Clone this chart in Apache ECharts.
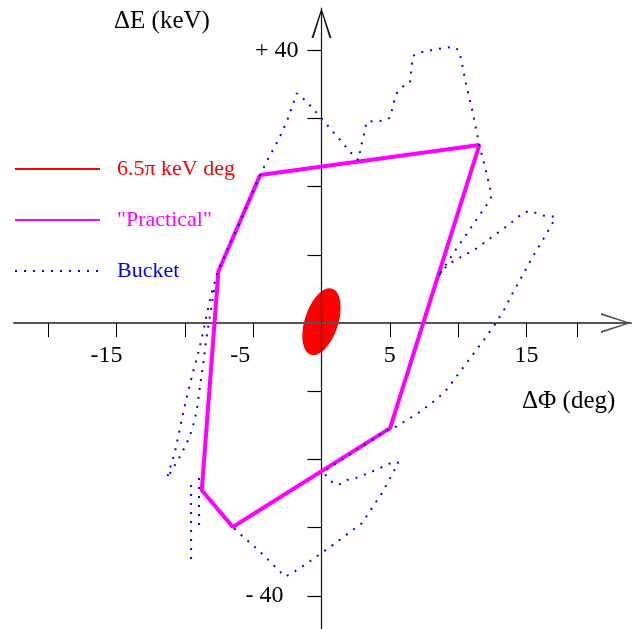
<!DOCTYPE html>
<html>
<head>
<meta charset="utf-8">
<script src="https://cdn.jsdelivr.net/npm/echarts@6/dist/echarts.min.js"></script>
<style>
html,body{margin:0;padding:0;background:#fff;}
#chart{width:633px;height:629px;}
</style>
</head>
<body>
<div id="chart"></div>
<script>
// ---- data (deg, keV) ----
const practicalDeg = [-4.49, 11.55, 5.02, -6.49, -8.76, -7.54, -4.49];
const practicalKeV = [21.7, 26.1, -15.4, -29.9, -24.5, 7.6, 21.7];

const bucketUpperDeg = [-7.86,-8.15,-8.44,-8.66,-8.88,-9.12,-9.47,-9.91,-10.42,-10.93,-11.30,-11.01,-10.71,-10.46,-10.20,-9.91,-9.62,-9.32,-8.96,-8.66,-8.37,-8.08,-7.57,-5.96,-4.49,-3.89,-3.15,-2.54,-2.06,-1.81,-1.08,-0.10,0.63,1.36,2.29,2.70,2.95,3.31,4.58,5.02,5.33,5.55,5.95,6.48,6.61,6.68,7.14,8.36,9.65,10.02,10.22,10.58,11.04,11.55,12.02,12.46,12.17,11.44,10.71,9.97,9.29,8.61];
const bucketUpperKeV = [4.85,1.19,-2.48,-6.14,-9.08,-12.74,-15.67,-17.87,-19.78,-21.54,-22.71,-20.81,-18.75,-16.41,-13.91,-11.28,-8.93,-6.58,-3.94,-1.30,1.48,4.12,7.64,14.82,21.72,24.16,26.85,29.53,32.23,33.70,32.46,30.26,28.56,26.85,24.65,23.91,26.36,29.53,29.68,30.12,32.61,33.84,34.66,35.25,37.84,39.16,39.65,40.15,40.53,40.04,38.72,35.01,31.14,26.11,22.45,18.68,17.57,15.45,13.31,11.20,9.11,7.05];

const bucketLowerDeg = [8.61,9.29,10.27,11.36,12.34,13.36,14.29,14.77,15.26,15.75,16.36,17.09,16.85,16.12,15.39,14.73,14.04,13.43,12.70,11.97,11.24,10.51,9.78,9.04,8.19,7.22,6.24,5.26,5.02,0.14,0.39,0.75,1.24,1.85,2.46,3.68,4.78,5.26,5.63,5.02,4.41,3.68,2.95,1.97,1.00,-0.10,-1.13,-2.17,-2.66,-3.52,-4.49,-5.47,-6.49];
const bucketLowerKeV = [7.05,8.67,9.74,10.97,12.43,13.90,15.37,16.19,16.44,16.10,15.70,15.60,14.38,11.94,9.50,7.05,4.60,2.17,-0.18,-2.23,-4.19,-6.14,-8.09,-10.06,-11.52,-12.99,-14.21,-15.43,-15.43,-21.79,-22.52,-23.26,-23.74,-23.01,-22.76,-21.79,-20.81,-20.32,-20.47,-22.76,-24.96,-27.16,-29.35,-30.82,-32.29,-33.86,-35.32,-36.69,-37.18,-35.47,-33.52,-31.80,-29.94];

const bucketColLeftDeg = [-9.54, -9.54];
const bucketColLeftKeV = [-23.74, -35.47];
const bucketColRightDeg = [-8.96, -8.96];
const bucketColRightKeV = [-22.72, -30.2];

// emittance ellipse: centre, half-width (deg), half-height (keV), phase (deg)
const ellipseCenter = [0.0, 0.2];
const ellipseHalfWidth = 1.4;
const ellipseHalfHeight = 4.9;
const ellipsePhase = 65;

const xTicks = [-20, -15, -10, -5, 5, 10, 15, 18.75];
const xLabels = [-15, -5, 5, 15];
const yTicks = [-40, -30, -20, -10, 10, 20, 30, 40];
const yLabels = [-40, 40];

const seriesNames = ['6.5\u03c0 keV deg', '"Practical"', 'Bucket'];

// ---- layout ----
const X_MIN = -22.5, X_MAX = 22.65, Y_MIN = -45, Y_MAX = 46.2;
const G_LEFT = 14, G_TOP = 8, G_W = 617, G_H = 622;
// put the axes through the origin (offset from the grid edges)
const yAxisOffset = -G_W * (0 - X_MIN) / (X_MAX - X_MIN);
const xAxisOffset = -G_H * (0 - Y_MIN) / (Y_MAX - Y_MIN);

function zip(a, b) { return a.map((v, i) => [v, b[i]]); }
const FONT = 'Liberation Serif';
const chevron = 'path://M10,0 L20,30 L18,30 L10,4 L2,30 L0,30 Z';

const chart = echarts.init(document.getElementById('chart'), null, {renderer: 'canvas'});
const bucketStyle = {color: '#0000ff', width: 2, type: [2, 7]};

chart.setOption({
  animation: false,
  backgroundColor: '#fff',
  grid: {left: G_LEFT, width: G_W, top: G_TOP, height: G_H, containLabel: false, outerBoundsMode: 'none'},
  title: [
    {text: '\u0394E (keV)', left: 114, top: 9, padding: 0,
     textStyle: {fontFamily: FONT, fontSize: 25, fontWeight: 'normal', color: '#000'}},
    {text: '\u0394\u03a6 (deg)', left: 522, top: 389, padding: 0,
     textStyle: {fontFamily: FONT, fontSize: 25, fontWeight: 'normal', color: '#000'}}
  ],
  legend: {
    orient: 'vertical', left: 14, top: 158, padding: 0,
    itemWidth: 85, itemHeight: 22, itemGap: 29,
    itemStyle: {opacity: 0},
    textStyle: {fontFamily: FONT, fontSize: 22, lineHeight: 22, padding: [0, 0, 0, 12]},
    data: [
      {name: seriesNames[0], textStyle: {color: '#ff0000'}},
      {name: seriesNames[1], textStyle: {color: '#ff00ff'}},
      {name: seriesNames[2], textStyle: {color: '#0000ff'}}
    ]
  },
  xAxis: {
    type: 'value', min: X_MIN, max: X_MAX, z: 2, position: 'bottom', offset: xAxisOffset,
    splitLine: {show: false},
    axisLine: {onZero: false, symbol: ['none', chevron], symbolSize: [20, 30], symbolOffset: [0, -15],
               lineStyle: {color: '#555', width: 2}},
    axisTick: {customValues: xTicks, length: 14, lineStyle: {color: '#000', width: 1}},
    axisLabel: {
      customValues: xLabels, margin: 21, fontFamily: FONT, fontSize: 24, color: '#000',
      formatter: function (v) {
        if (v === -15) return '{a|-15}';
        if (v === -5) return '{b|-5}';
        return String(v);
      },
      rich: {
        a: {fontFamily: FONT, fontSize: 24, color: '#000', padding: [0, 20, 0, 0]},
        b: {fontFamily: FONT, fontSize: 24, color: '#000', padding: [0, 26, 0, 0]}
      }
    }
  },
  yAxis: {
    type: 'value', min: Y_MIN, max: Y_MAX, z: 2, position: 'left', offset: yAxisOffset,
    splitLine: {show: false},
    axisLine: {onZero: false, symbol: ['none', chevron], symbolSize: [20, 30], symbolOffset: [0, -15],
               lineStyle: {color: '#111', width: 1.2}},
    axisTick: {customValues: yTicks, length: 14, lineStyle: {color: '#000', width: 1.2}},
    axisLabel: {
      customValues: yLabels, margin: 23, fontFamily: FONT, fontSize: 24, color: '#000',
      formatter: function (v) { return v > 0 ? '+ ' + v : '{n|- ' + Math.abs(v) + '}'; },
      rich: {n: {fontFamily: FONT, fontSize: 24, color: '#000', padding: [0, 15, 0, 0]}}
    }
  },
  series: [
    {name: seriesNames[0], type: 'line', data: [], symbol: 'none', z: 3,
     lineStyle: {color: '#ff0000', width: 1}, itemStyle: {color: '#ff0000'}},
    {name: seriesNames[0], type: 'custom', z: 1,
     data: [[ellipseCenter[0], ellipseCenter[1], ellipseHalfWidth, ellipseHalfHeight, ellipsePhase]],
     itemStyle: {color: '#ff0000'},
     renderItem: function (params, api) {
       const cx = api.value(0), cy = api.value(1), a = api.value(2), b = api.value(3);
       const ph = api.value(4) * Math.PI / 180;
       const pts = [];
       for (let i = 0; i < 96; i++) {
         const t = i / 96 * 2 * Math.PI;
         pts.push(api.coord([cx + a * Math.cos(t), cy + b * Math.cos(t - ph)]));
       }
       return {type: 'polygon', shape: {points: pts}, style: {fill: '#ff0000'}};
     }},
    {name: seriesNames[1], type: 'line', data: zip(practicalDeg, practicalKeV), symbol: 'none', z: 3,
     lineStyle: {color: '#ff00ff', width: 4}, itemStyle: {color: '#ff00ff'}},
    {name: seriesNames[2], type: 'line', data: zip(bucketUpperDeg, bucketUpperKeV), symbol: 'none', z: 4,
     lineStyle: bucketStyle, itemStyle: {color: '#0000ff'}},
    {name: seriesNames[2], type: 'line', data: zip(bucketLowerDeg, bucketLowerKeV), symbol: 'none', z: 4,
     lineStyle: bucketStyle, itemStyle: {color: '#0000ff'}},
    {name: seriesNames[2], type: 'line', data: zip(bucketColLeftDeg, bucketColLeftKeV), symbol: 'none', z: 4,
     lineStyle: bucketStyle, itemStyle: {color: '#0000ff'}},
    {name: seriesNames[2], type: 'line', data: zip(bucketColRightDeg, bucketColRightKeV), symbol: 'none', z: 4,
     lineStyle: bucketStyle, itemStyle: {color: '#0000ff'}}
  ]
});
</script>
</body>
</html>
